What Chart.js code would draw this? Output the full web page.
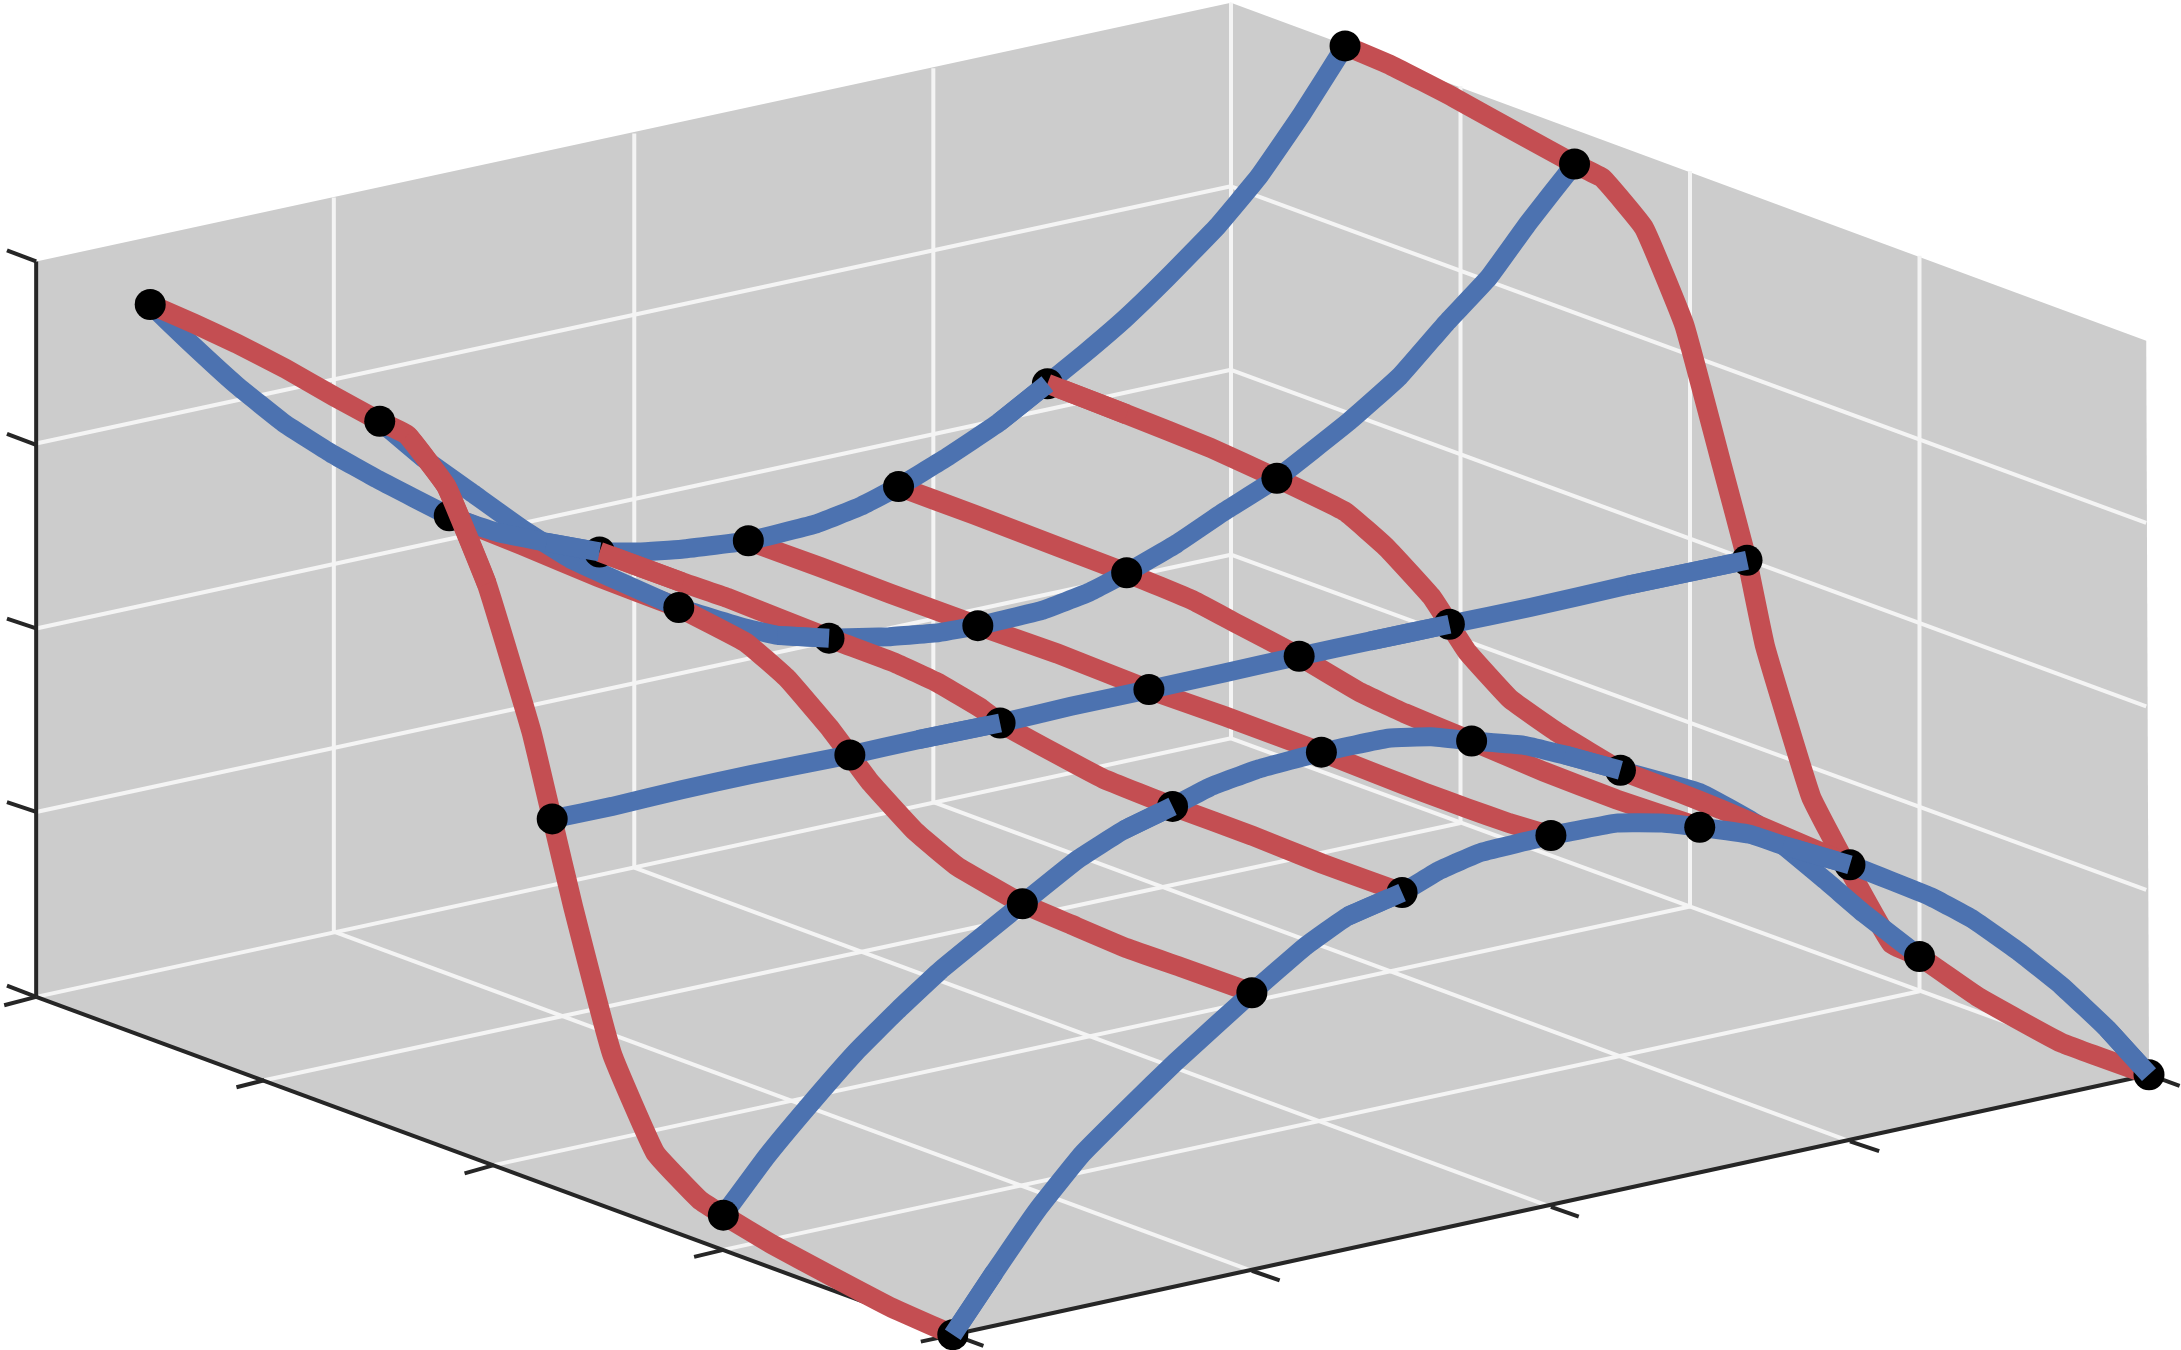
<!DOCTYPE html>
<html>
<head>
<meta charset="utf-8">
<style>
    html, body { margin: 0; padding: 0; background: #ffffff; }
    canvas { display: block; }
</style>
<script src="https://cdn.jsdelivr.net/npm/chart.js@4/dist/chart.umd.js"></script>
</head>
<body>
<canvas id="surfaceChart" width="2181" height="1350"></canvas>
<script>
// all values, in the units of the x and y scales below
const paneOutline = [[26, 188], [885, 2], [1543, 245], [1545, 773], [685, 960], [26, 717], [26, 188]];

const gridLines = [
    [[26, 319], [885, 134]], [[26, 452], [885, 266]], [[26, 584], [885, 399]], [[26, 717], [885, 531]],
    [[240, 142], [240, 670]], [[456, 96], [456, 624]], [[671, 49], [671, 577]], [[885, 2], [885, 531]],
    [[885, 134], [1543, 376]], [[885, 266], [1543, 508]], [[885, 399], [1543, 640]], [[885, 531], [1545, 773]],
    [[1050, 62], [1050, 592]], [[1215, 123], [1215, 652]], [[1380, 184], [1380, 713]],
    [[190, 777], [1050, 592]], [[355, 838], [1215, 652]], [[520, 899], [1380, 713]],
    [[240, 670], [900, 914]], [[456, 624], [1115, 868]], [[671, 577], [1330, 821]]
];

const axisLines = [
    [[26, 188], [26, 717]], [[26, 717], [685, 960]], [[685, 960], [1545, 773]]
];

const axisTicks = [
    [[5, 180], [26, 188]], [[5, 312], [26, 320]], [[5, 445], [26, 452]], [[5, 577], [26, 584]], [[5, 709], [26, 717]],
    [[3, 723], [26, 717]], [[170, 782], [190, 777]], [[334, 844], [355, 838]], [[499, 904], [520, 899]], [[662, 965], [685, 960]],
    [[685, 960], [707, 968]], [[900, 914], [920, 921]], [[1115, 868], [1135, 875]], [[1330, 821], [1351, 828]], [[1545, 773], [1567, 781]]
];

const red1 = [[108, 219], [140, 233], [170, 247], [205, 265], [240, 285], [273, 303], [293, 313], [321, 350], [350, 420], [382, 526], [397, 589], [412, 652], [440, 758], [471, 829], [503, 863], [520, 874], [555, 895], [598, 918], [640, 940], [685, 960]];
const red2 = [[323, 371], [375, 392], [430, 415], [488, 437], [536, 462], [566, 488], [596, 523], [611, 543], [626, 563], [658, 598], [688, 623], [735, 650], [770, 665], [810, 682], [850, 696], [875, 705], [900, 714]];
const red3 = [[431, 397], [491, 419], [523, 430], [596, 459], [644, 477], [674, 491], [706, 510], [719, 520], [759, 542], [793, 560], [843, 580], [900, 601], [950, 621], [1008, 642]];
const red4 = [[538, 389], [590, 408], [640, 427], [703, 450], [760, 470], [826, 496], [880, 515], [950, 541], [993, 558], [1024, 570], [1054, 581], [1085, 592], [1115, 601]];
const red5 = [[646, 350], [700, 370], [760, 393], [810, 412], [858, 432], [890, 449], [934, 472], [978, 498], [1010, 513], [1058, 533], [1110, 555], [1162, 575], [1222, 595]];
const red6 = [[753, 276], [810, 298], [870, 322], [918, 344], [967, 368], [997, 394], [1029, 429], [1042, 449], [1055, 469], [1086, 503], [1120, 527], [1165, 554], [1207, 570], [1237, 582], [1330, 622]];
const red7 = [[967, 33], [1000, 47], [1045, 70], [1090, 95], [1132, 118], [1152, 128], [1182, 164], [1211, 234], [1238, 335], [1256, 403], [1269, 465], [1302, 573], [1328, 623], [1360, 679], [1380, 688], [1422, 717], [1482, 750], [1545, 773]];

const blue1 = [[108, 219], [135, 245], [170, 277], [205, 305], [238, 326], [272, 345], [323, 371], [358, 383], [393, 390], [431, 397], [459, 397], [490, 395], [538, 389], [586, 377], [619, 364], [646, 350], [679, 330], [718, 304], [753, 276], [780, 254], [809, 229], [839, 200], [875, 163], [905, 127], [936, 82], [967, 33]];
const blue2 = [[273, 303], [305, 330], [340, 355], [375, 380], [410, 402], [488, 437], [537, 452], [559, 457], [596, 459], [639, 458], [675, 455], [703, 450], [749, 439], [783, 426], [810, 412], [846, 391], [880, 368], [918, 344], [970, 303], [1006, 271], [1040, 232], [1070, 200], [1099, 160], [1132, 118]];
const blue3 = [[397, 589], [440, 580], [490, 568], [540, 557], [611, 543], [660, 532], [719, 520], [770, 508], [826, 496], [880, 484], [934, 472], [985, 461], [1042, 449], [1100, 437], [1170, 421], [1256, 403]];
const blue4 = [[520, 874], [551, 832], [580, 797], [615, 757], [645, 727], [676, 698], [735, 650], [775, 618], [808, 597], [843, 580], [870, 566], [905, 553], [950, 541], [998, 531], [1029, 530], [1058, 533], [1095, 536], [1125, 543], [1165, 554], [1222, 570], [1262, 592], [1312, 633], [1340, 657], [1380, 688]];
const blue5 = [[685, 960], [715, 915], [746, 870], [778, 830], [812, 796], [845, 764], [900, 714], [938, 681], [969, 659], [1008, 642], [1035, 626], [1065, 613], [1115, 601], [1162, 592], [1195, 592], [1222, 595], [1258, 600], [1282, 608], [1330, 622], [1388, 645], [1418, 661], [1452, 685], [1482, 709], [1515, 740], [1545, 773]];

const nodePoints = [
    [108, 219], [323, 371], [431, 397], [538, 389], [646, 350], [753, 276], [967, 33],
    [273, 303], [488, 437], [596, 459], [703, 450], [810, 412], [918, 344], [1132, 118],
    [397, 589], [611, 543], [719, 520], [826, 496], [934, 472], [1042, 449], [1256, 403],
    [520, 874], [735, 650], [843, 580], [950, 541], [1058, 533], [1165, 554], [1380, 688],
    [685, 960], [900, 714], [1008, 642], [1115, 601], [1222, 595], [1330, 622], [1545, 773]
];

const RED = '#C44E52';
const BLUE = '#4C72B0';
const RED_WIDTH = 20;
const BLUE_WIDTH = 19;

var datasets = [];

function toPoints(line) {
    return line.map(function (p) {
        return { x: p[0], y: p[1] };
    });
}

function addLine(line, color, width, tension) {
    datasets.push({
        data: toPoints(line),
        showLine: true,
        borderColor: color,
        borderWidth: width,
        tension: tension || 0,
        pointRadius: 0,
        order: -datasets.length
    });
}

function addRed(line) {
    addLine(line, RED, RED_WIDTH, 0.1);
}

function addBlue(line) {
    addLine(line, BLUE, BLUE_WIDTH, 0.1);
}

// the stretch of a curve between two x values
function part(line, fromX, toX) {
    return line.filter(function (p) {
        return p[0] >= fromX && p[0] <= toX;
    });
}

// the piece of a curve that runs into the vertex at x, from the left
function into(line, x) {
    var i = line.findIndex(function (p) {
        return p[0] === x;
    });
    return line.slice(i - 1, i + 1);
}

datasets.push({
    data: toPoints(paneOutline),
    showLine: true,
    borderWidth: 0,
    backgroundColor: '#CCCCCC',
    fill: 'shape',
    pointRadius: 0,
    order: 0
});

gridLines.forEach(function (line) {
    addLine(line, '#F4F4F4', 4);
});
axisLines.forEach(function (line) {
    addLine(line, '#262626', 4);
});
axisTicks.forEach(function (line) {
    addLine(line, '#262626', 4);
});

// back to front, the mesh was painted piece by piece by depth
addRed(red7);
addBlue(part(blue4, 1165, 1380));
addRed(red6);
addRed(red5);
addRed(red4);
addRed(part(red2, 323, 488));
addBlue(part(blue2, 596, 1132));
addBlue(part(blue1, 431, 967));
addRed(red3);
addBlue(part(blue2, 273, 596));
addBlue(part(blue1, 108, 431));
addRed(part(red2, 488, 900));
addBlue(blue3);
addBlue(part(blue4, 520, 1165));
addBlue(blue5);
addRed(red1);

datasets.push({
    data: toPoints(nodePoints),
    showLine: false,
    backgroundColor: '#000000',
    borderWidth: 0,
    pointRadius: 15.5,
    pointHoverRadius: 15.5,
    order: -datasets.length
});

// pieces that lie over the markers
addRed(part(red1, 293, 350));
addRed(part(red3, 431, 491));
addBlue(into(blue1, 431));
addRed(part(red6, 753, 810));
addBlue(into(blue1, 753));
addBlue(into(blue2, 596));
addBlue(into(blue3, 719));
addBlue(into(blue3, 1042));
addBlue(into(blue3, 1256));
addBlue(into(blue4, 843));
addBlue(into(blue4, 1165));
addBlue(part(blue5, 685, 715));
addBlue(into(blue5, 1008));
addBlue(into(blue5, 1330));
addBlue(into(blue5, 1545));

var surfaceChart = new Chart(document.getElementById('surfaceChart'), {
    type: 'scatter',
    data: { datasets: datasets },
    options: {
        responsive: false,
        animation: false,
        events: [],
        layout: { padding: 0, autoPadding: false },
        scales: {
            x: { type: 'linear', display: false, min: 0, max: 1568 },
            y: { type: 'linear', display: false, min: 0, max: 971, reverse: true }
        },
        plugins: {
            legend: { display: false },
            tooltip: { enabled: false }
        }
    }
});
</script>
</body>
</html>
